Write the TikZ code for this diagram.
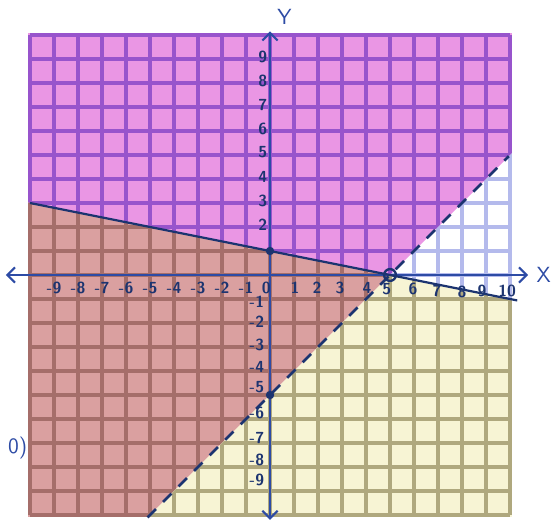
\documentclass[tikz,border=0pt]{standalone}
\usetikzlibrary{arrows.meta}
\definecolor{magfill}{RGB}{234,150,228}
\definecolor{maggrid}{RGB}{152,84,204}
\definecolor{rosefill}{RGB}{218,160,160}
\definecolor{rosegrid}{RGB}{165,110,106}
\definecolor{yelfill}{RGB}{247,244,212}
\definecolor{yelgrid}{RGB}{175,168,126}
\definecolor{whgrid}{RGB}{180,186,236}
\definecolor{ink}{RGB}{28,52,112}
\definecolor{axisblue}{RGB}{45,75,165}
\begin{document}
\begin{tikzpicture}[x=0.5cm,y=0.5cm,
  gridline/.style={line width=2pt, step=0.5cm},
  ticklab/.style={font=\sffamily\bfseries\fontsize{9.5}{10}\selectfont, text=ink, inner sep=0pt},
  axislabel/.style={font=\sffamily\fontsize{13}{14}\selectfont, text=axisblue, inner sep=0pt},
  axisline/.style={draw=axisblue, line width=1.2pt, arrows={Straight Barb[length=4.5pt,width=9pt,line width=1.2pt]-Straight Barb[length=4.5pt,width=9pt,line width=1.2pt]}},
  boundary/.style={draw=ink, line width=1.3pt},
  dashedboundary/.style={draw=ink, line width=1.6pt, dash pattern=on 7pt off 6pt}]
\useasboundingbox (-11.25,-10.333) rectangle (11.958,11.458);
\fill[white] (-11.25,-10.333) rectangle (11.958,11.458);

% magenta region (above solid line, left of dashed line)
\begin{scope}
\clip (-10.08,3.016) -- (5,0) -- (10.08,5.08) -- (10.08,10.08) -- (-10.08,10.08) -- cycle;
\fill[magfill] (-10.08,-10.08) rectangle (10.08,10.08);
\draw[gridline, maggrid] (-10,-10) grid (10,10);
\end{scope}
% unshaded region (above solid line, right of dashed line)
\begin{scope}
\clip (5,0) -- (10.08,-1.016) -- (10.08,5.08) -- cycle;
\draw[gridline, whgrid] (-10,-10) grid (10,10);
\end{scope}
% rose region (below solid line, left of dashed line)
\begin{scope}
\clip (-10.08,3.016) -- (5,0) -- (-5.08,-10.08) -- (-10.08,-10.08) -- cycle;
\fill[rosefill] (-10.08,-10.08) rectangle (10.08,10.08);
\draw[gridline, rosegrid] (-10,-10) grid (10,10);
\end{scope}
% yellow region (below solid line, right of dashed line)
\begin{scope}
\clip (5,0) -- (10.08,-1.016) -- (10.08,-10.08) -- (-5.08,-10.08) -- cycle;
\fill[yelfill] (-10.08,-10.08) rectangle (10.08,10.08);
\draw[gridline, yelgrid] (-10,-10) grid (10,10);
\end{scope}

% axes
\coordinate (xl) at (-11.0,0);
\coordinate (xr) at (10.75,0);
\coordinate (yb) at (0,-10.2);
\coordinate (yt) at (0,10.15);
\draw[axisline] (xl) -- (xr);
\draw[axisline] (yb) -- (yt);
\node[axislabel] (xlab) at (11.4,0) {X};
\node[axislabel] (ylab) at (0.6,10.75) {Y};

% boundary lines
\coordinate (sA) at (-10,3);
\coordinate (sB) at (10.3,-1.06);
\draw[boundary] (sA) -- (sB);
\coordinate (dA) at (-5.1,-10.1);
\coordinate (dB) at (9.95,4.95);
\draw[dashedboundary] (dA) -- (dB);

% points
\node[circle, fill=ink, inner sep=0pt, minimum size=5pt] (p1) at (0,1) {};
\node[circle, fill=ink, inner sep=0pt, minimum size=5pt] (p2) at (0,-5) {};
\node[circle, draw=ink, line width=1.4pt, inner sep=0pt, minimum size=7pt] (p3) at (5,0) {};

% x tick labels
\foreach \k in {-9,...,-1} {\node[ticklab] (xt\k) at (\k,-0.55) {\k};}
\node[ticklab] (xt0) at (-0.15,-0.55) {0};
\foreach \k/\px/\py in {1/1.04/-0.55, 2/1.96/-0.55, 3/2.92/-0.55, 4/4.04/-0.55, 5/4.87/-0.6, 6/5.96/-0.6, 7/6.96/-0.65, 8/8.0/-0.7, 9/8.83/-0.65, 10/9.88/-0.65}
  {\node[ticklab] (xt\k) at (\px,\py) {\k};}

% y tick labels
\foreach \k in {2,...,9} {\node[ticklab] (yt\k) at (-0.3,\k+0.1) {\k};}
\foreach \k/\py in {-1/-1.12, -2/-1.96, -3/-2.92, -4/-3.83, -5/-4.67, -6/-5.75, -7/-6.79, -8/-7.71, -9/-8.54}
  {\node[ticklab] (ytn\k) at (-0.55,\py) {\k};}

% partial text at left edge
\node[font=\sffamily\fontsize{13}{14}\selectfont, text=axisblue, inner sep=0pt, anchor=east] (lefttext) at (-10.1,-7.2) {0)};
\end{tikzpicture}
\end{document}
